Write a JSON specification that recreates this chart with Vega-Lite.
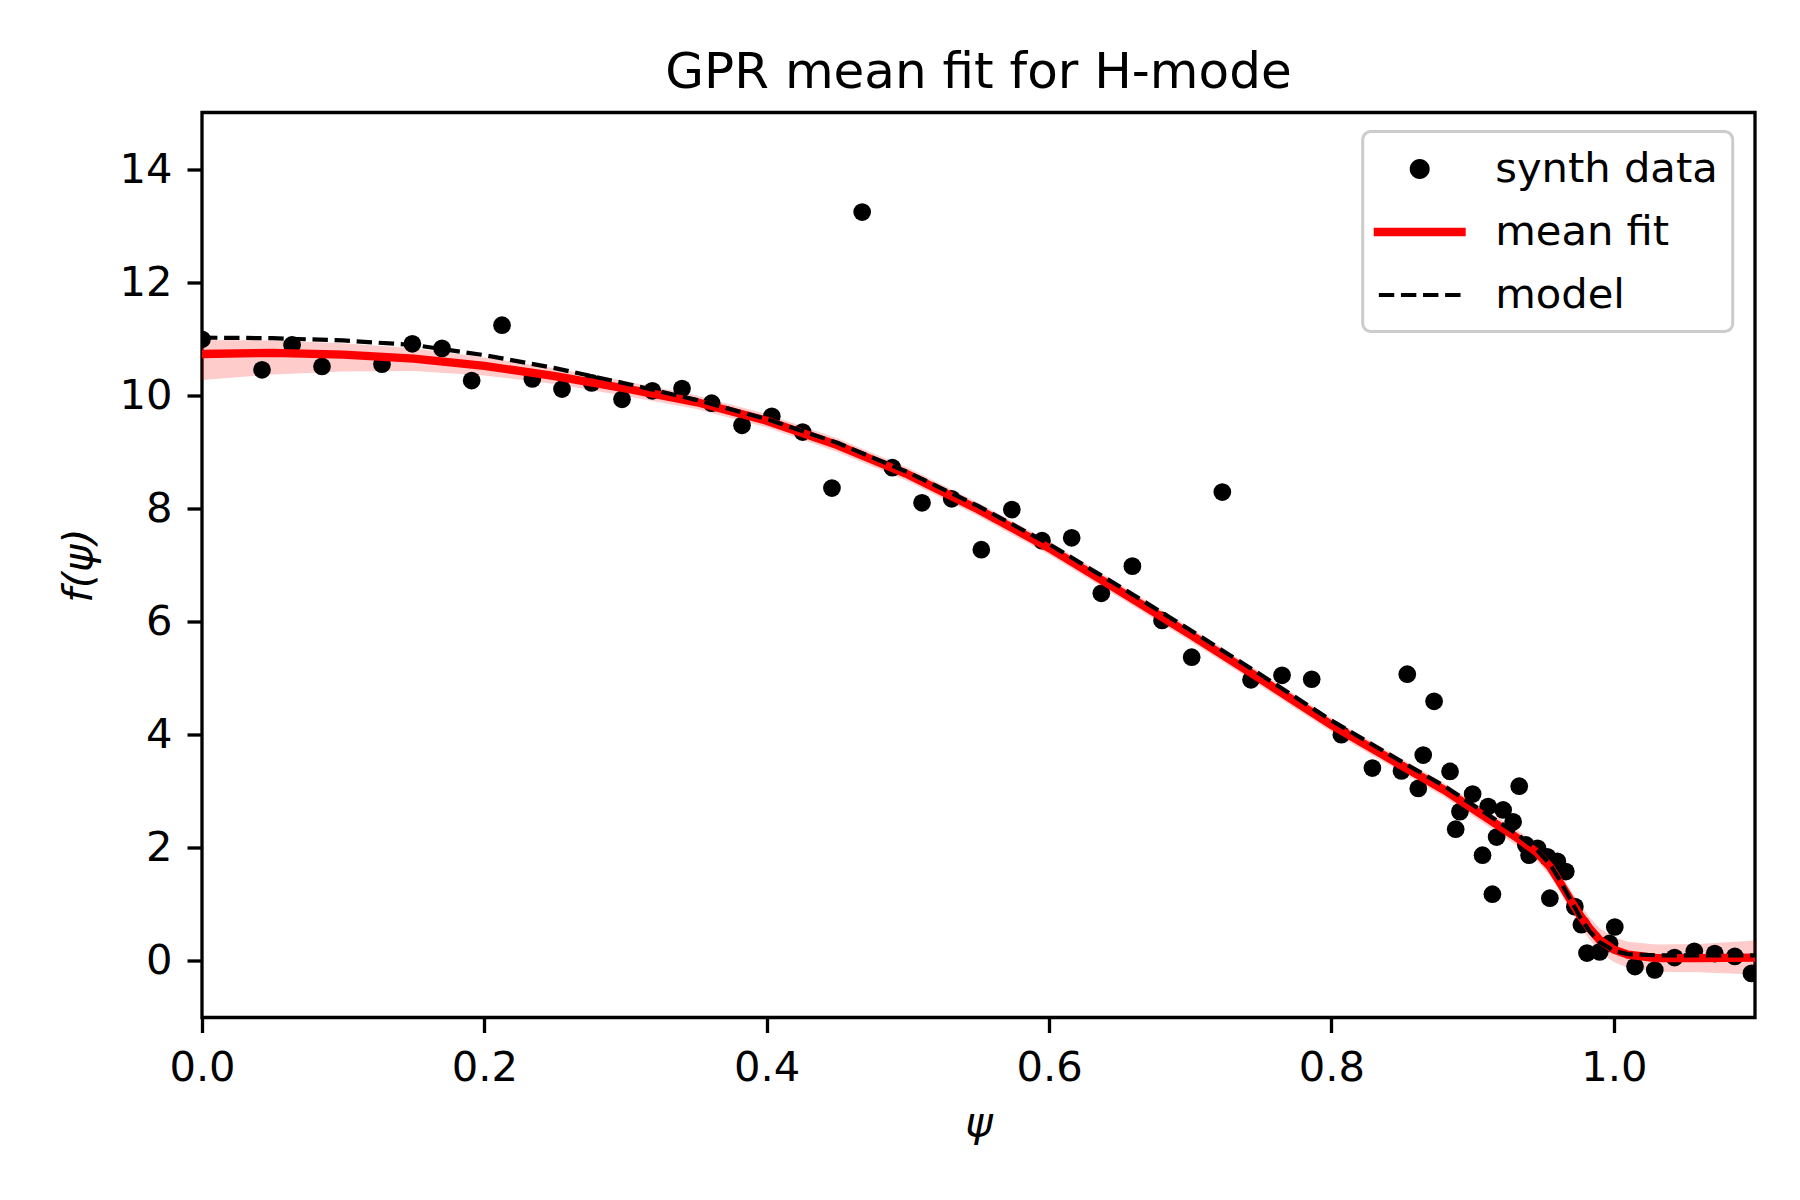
{
  "$schema": "https://vega.github.io/schema/vega-lite/v6.json",
  "width": 1553,
  "height": 905,
  "autosize": {"type": "none"},
  "padding": {"left": 202, "top": 112.5, "right": 45, "bottom": 182.5},
  "background": "white",
  "title": {"text": "GPR mean fit for H-mode", "font": "DejaVu Sans", "fontSize": 50, "fontWeight": "normal", "color": "black", "anchor": "middle", "offset": -25, "baseline": "alphabetic"},
  "datasets": {
    "points": [
      {"x": 0.0, "y": 10.99}, {"x": 0.0425, "y": 10.45}, {"x": 0.0638, "y": 10.89}, {"x": 0.085, "y": 10.51},
      {"x": 0.1275, "y": 10.55}, {"x": 0.149, "y": 10.91}, {"x": 0.17, "y": 10.83}, {"x": 0.191, "y": 10.26},
      {"x": 0.2125, "y": 11.24}, {"x": 0.234, "y": 10.29}, {"x": 0.255, "y": 10.11}, {"x": 0.276, "y": 10.22},
      {"x": 0.2975, "y": 9.93}, {"x": 0.319, "y": 10.08}, {"x": 0.34, "y": 10.12}, {"x": 0.361, "y": 9.86},
      {"x": 0.3825, "y": 9.47}, {"x": 0.4036, "y": 9.63}, {"x": 0.4254, "y": 9.35}, {"x": 0.4462, "y": 8.36},
      {"x": 0.4676, "y": 13.24}, {"x": 0.489, "y": 8.72}, {"x": 0.51, "y": 8.1}, {"x": 0.531, "y": 8.17},
      {"x": 0.552, "y": 7.27}, {"x": 0.5736, "y": 7.98}, {"x": 0.595, "y": 7.43}, {"x": 0.616, "y": 7.48},
      {"x": 0.637, "y": 6.5}, {"x": 0.659, "y": 6.98}, {"x": 0.68, "y": 6.02}, {"x": 0.701, "y": 5.37},
      {"x": 0.7227, "y": 8.29}, {"x": 0.743, "y": 4.97}, {"x": 0.765, "y": 5.05}, {"x": 0.786, "y": 4.98},
      {"x": 0.807, "y": 4.0}, {"x": 0.829, "y": 3.41}, {"x": 0.8496, "y": 3.36}, {"x": 0.8537, "y": 5.07},
      {"x": 0.8615, "y": 3.05}, {"x": 0.865, "y": 3.64}, {"x": 0.8727, "y": 4.59}, {"x": 0.884, "y": 3.35},
      {"x": 0.888, "y": 2.33}, {"x": 0.891, "y": 2.64}, {"x": 0.9, "y": 2.95}, {"x": 0.907, "y": 1.87},
      {"x": 0.911, "y": 2.73}, {"x": 0.914, "y": 1.18}, {"x": 0.917, "y": 2.19}, {"x": 0.9216, "y": 2.67},
      {"x": 0.9287, "y": 2.46}, {"x": 0.933, "y": 3.09}, {"x": 0.9377, "y": 2.05}, {"x": 0.94, "y": 1.87},
      {"x": 0.946, "y": 1.99}, {"x": 0.953, "y": 1.84}, {"x": 0.9547, "y": 1.11}, {"x": 0.96, "y": 1.76},
      {"x": 0.966, "y": 1.58}, {"x": 0.9724, "y": 0.96}, {"x": 0.977, "y": 0.64}, {"x": 0.981, "y": 0.14},
      {"x": 0.99, "y": 0.16}, {"x": 0.997, "y": 0.31}, {"x": 1.0007, "y": 0.6}, {"x": 1.015, "y": -0.1},
      {"x": 1.029, "y": -0.16}, {"x": 1.043, "y": 0.06}, {"x": 1.057, "y": 0.17}, {"x": 1.0715, "y": 0.13},
      {"x": 1.0857, "y": 0.08}, {"x": 1.0975, "y": -0.22}
    ],
    "mean": [
      {"x": 0.0, "m": 10.73, "lo": 10.27, "hi": 10.98},
      {"x": 0.05, "m": 10.75, "lo": 10.37, "hi": 10.97},
      {"x": 0.1, "m": 10.72, "lo": 10.42, "hi": 10.92},
      {"x": 0.15, "m": 10.65, "lo": 10.43, "hi": 10.83},
      {"x": 0.2, "m": 10.52, "lo": 10.35, "hi": 10.67},
      {"x": 0.25, "m": 10.34, "lo": 10.2, "hi": 10.48},
      {"x": 0.3, "m": 10.12, "lo": 9.99, "hi": 10.25},
      {"x": 0.35, "m": 9.88, "lo": 9.76, "hi": 10.0},
      {"x": 0.4, "m": 9.55, "lo": 9.43, "hi": 9.67},
      {"x": 0.45, "m": 9.12, "lo": 9.0, "hi": 9.24},
      {"x": 0.5, "m": 8.6, "lo": 8.48, "hi": 8.72},
      {"x": 0.55, "m": 7.98, "lo": 7.86, "hi": 8.1},
      {"x": 0.6, "m": 7.3, "lo": 7.18, "hi": 7.42},
      {"x": 0.65, "m": 6.54, "lo": 6.42, "hi": 6.66},
      {"x": 0.7, "m": 5.77, "lo": 5.65, "hi": 5.89},
      {"x": 0.75, "m": 4.98, "lo": 4.86, "hi": 5.1},
      {"x": 0.8, "m": 4.17, "lo": 4.05, "hi": 4.29},
      {"x": 0.85, "m": 3.45, "lo": 3.33, "hi": 3.57},
      {"x": 0.88, "m": 3.02, "lo": 2.9, "hi": 3.14},
      {"x": 0.905, "m": 2.61, "lo": 2.48, "hi": 2.74},
      {"x": 0.93, "m": 2.2, "lo": 2.06, "hi": 2.34},
      {"x": 0.945, "m": 1.93, "lo": 1.78, "hi": 2.08},
      {"x": 0.955, "m": 1.66, "lo": 1.5, "hi": 1.82},
      {"x": 0.962, "m": 1.38, "lo": 1.21, "hi": 1.55},
      {"x": 0.97, "m": 1.05, "lo": 0.87, "hi": 1.23},
      {"x": 0.976, "m": 0.81, "lo": 0.62, "hi": 1.0},
      {"x": 0.983, "m": 0.57, "lo": 0.37, "hi": 0.77},
      {"x": 0.99, "m": 0.37, "lo": 0.16, "hi": 0.58},
      {"x": 1.0, "m": 0.2, "lo": -0.02, "hi": 0.42},
      {"x": 1.01, "m": 0.11, "lo": -0.12, "hi": 0.34},
      {"x": 1.03, "m": 0.05, "lo": -0.19, "hi": 0.29},
      {"x": 1.06, "m": 0.05, "lo": -0.2, "hi": 0.3},
      {"x": 1.1, "m": 0.06, "lo": -0.24, "hi": 0.36}
    ],
    "model": [
      {"x": 0.0, "y": 11.02}, {"x": 0.05, "y": 11.01}, {"x": 0.1, "y": 10.97}, {"x": 0.15, "y": 10.89},
      {"x": 0.2, "y": 10.71}, {"x": 0.25, "y": 10.48}, {"x": 0.3, "y": 10.21}, {"x": 0.35, "y": 9.92},
      {"x": 0.4, "y": 9.58}, {"x": 0.45, "y": 9.16}, {"x": 0.5, "y": 8.64}, {"x": 0.55, "y": 8.04},
      {"x": 0.6, "y": 7.37}, {"x": 0.65, "y": 6.62}, {"x": 0.7, "y": 5.85}, {"x": 0.75, "y": 5.06},
      {"x": 0.8, "y": 4.25}, {"x": 0.85, "y": 3.52}, {"x": 0.88, "y": 3.09}, {"x": 0.905, "y": 2.68},
      {"x": 0.93, "y": 2.27}, {"x": 0.945, "y": 1.98}, {"x": 0.955, "y": 1.7}, {"x": 0.962, "y": 1.42},
      {"x": 0.97, "y": 1.05}, {"x": 0.976, "y": 0.78}, {"x": 0.983, "y": 0.52}, {"x": 0.99, "y": 0.33},
      {"x": 1.0, "y": 0.18}, {"x": 1.01, "y": 0.12}, {"x": 1.03, "y": 0.1}, {"x": 1.1, "y": 0.1}
    ]
  },
  "config": {
    "view": {"stroke": "black", "strokeWidth": 3.3},
    "axis": {
      "domain": false, "grid": false, "ticks": true, "tickSize": 15, "tickWidth": 3.3, "tickColor": "black",
      "labelPadding": 15, "labelFont": "DejaVu Sans", "labelFontSize": 41.67, "labelColor": "black",
      "labelFlush": false, "labelOverlap": false,
      "titleFont": "DejaVu Sans", "titleFontSize": 41.67, "titleFontStyle": "italic", "titleFontWeight": "normal", "titleColor": "black"
    }
  },
  "layer": [
    {
      "data": {"name": "mean"},
      "mark": {"type": "area", "color": "red", "opacity": 0.2, "clip": true},
      "encoding": {
        "x": {"field": "x", "type": "quantitative", "scale": {"domain": [0, 1.1], "nice": false, "zero": false},
              "axis": {"values": [0, 0.2, 0.4, 0.6, 0.8, 1.0], "format": ".1f", "title": "ψ", "titlePadding": 13}},
        "y": {"field": "lo", "type": "quantitative", "scale": {"domain": [-1, 15], "nice": false, "zero": false},
              "axis": {"values": [0, 2, 4, 6, 8, 10, 12, 14], "format": "d", "title": "f(ψ)", "titlePadding": 18}},
        "y2": {"field": "hi"}
      }
    },
    {
      "data": {"name": "points"},
      "mark": {"type": "point", "filled": true, "size": 314, "opacity": 1, "clip": true},
      "encoding": {
        "x": {"field": "x", "type": "quantitative"},
        "y": {"field": "y", "type": "quantitative"},
        "color": {
          "datum": "synth data", "type": "nominal",
          "scale": {"domain": ["synth data", "mean fit", "model"], "range": ["black", "red", "black"]},
          "legend": {
            "title": null, "orient": "none", "legendX": 1160.7, "legendY": 19,
            "padding": 14, "strokeColor": "#cccccc", "cornerRadius": 8, "fillColor": "white",
            "symbolSize": 2209, "symbolOffset": 19.5, "labelOffset": 52, "rowPadding": 17, "symbolStrokeWidth": 0,
            "labelFont": "DejaVu Sans", "labelFontSize": 41.67, "labelColor": "black", "labelLimit": 600,
            "encoding": {
              "legend": {"strokeWidth": {"value": 3}},
              "symbols": {
                "shape": {
                  "condition": [
                    {"test": "datum.value === 'synth data'", "value": "M-0.4255,0A0.4255,0.4255,0,1,1,0.4255,0A0.4255,0.4255,0,1,1,-0.4255,0Z"},
                    {"test": "datum.value === 'mean fit'", "value": "M-1.957,-0.177H1.957V0.177H-1.957Z"}
                  ],
                  "value": "M-1.738,-0.089H-1.083V0.089H-1.738ZM-0.798,-0.089H-0.143V0.089H-0.798ZM0.142,-0.089H0.797V0.089H0.142ZM1.082,-0.089H1.737V0.089H1.082Z"
                },
                "fill": {"condition": {"test": "datum.value === 'mean fit'", "value": "red"}, "value": "black"},
                "stroke": {"value": "transparent"},
                "opacity": {"value": 1}
              }
            }
          }
        }
      }
    },
    {
      "data": {"name": "mean"},
      "mark": {"type": "line", "strokeWidth": 8.3, "clip": true},
      "encoding": {
        "x": {"field": "x", "type": "quantitative"},
        "y": {"field": "m", "type": "quantitative"},
        "color": {"datum": "mean fit", "type": "nominal"}
      }
    },
    {
      "data": {"name": "model"},
      "mark": {"type": "line", "strokeWidth": 4.2, "strokeDash": [15.4, 6.7], "clip": true},
      "encoding": {
        "x": {"field": "x", "type": "quantitative"},
        "y": {"field": "y", "type": "quantitative"},
        "color": {"datum": "model", "type": "nominal"}
      }
    }
  ]
}
